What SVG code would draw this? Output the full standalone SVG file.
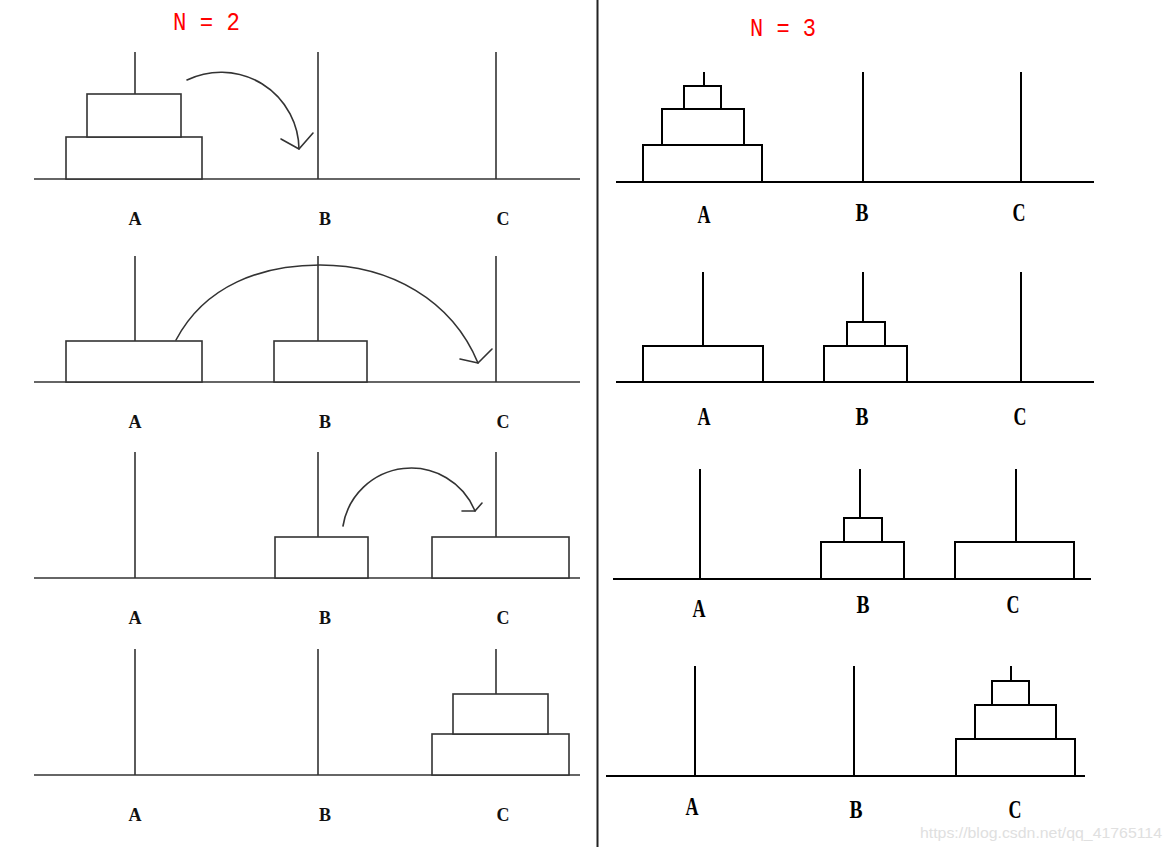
<svg xmlns="http://www.w3.org/2000/svg" width="1172" height="851" viewBox="0 0 1172 851">
<style>
.l{stroke:#333;stroke-width:1.6;fill:none}
.ld{stroke:#333;stroke-width:1.6;fill:#fff}
.r{stroke:#000;stroke-width:2;fill:none}
.rd{stroke:#000;stroke-width:2;fill:#fff}
.arc{stroke:#333;stroke-width:1.6;fill:none;stroke-linecap:round;stroke-linejoin:round}
.tl{font-family:"Liberation Serif",serif;font-weight:bold;font-size:18px;fill:#111;text-anchor:middle}
.tr{font-family:"Liberation Serif",serif;font-weight:bold;font-size:26px;fill:#000;text-anchor:middle}
.title{font-family:"Liberation Mono",monospace;font-size:25px;fill:#f00}
.wm{font-family:"Liberation Sans",sans-serif;font-size:15px;fill:#e0e0e0}
</style>
<rect width="1172" height="851" fill="#fff"/>
<line x1="597.5" y1="0" x2="597.5" y2="847" stroke="#222" stroke-width="2"/>
<text class="title" x="173" y="30" textLength="67" lengthAdjust="spacingAndGlyphs">N = 2</text>
<text class="title" x="750" y="36" textLength="66" lengthAdjust="spacingAndGlyphs">N = 3</text>

<g id="left-step1">
<line class="l" x1="34" y1="179" x2="580" y2="179"/>
<line class="l" x1="135" y1="52" x2="135" y2="94"/>
<line class="l" x1="318" y1="52" x2="318" y2="179"/>
<line class="l" x1="496" y1="52" x2="496" y2="179"/>
<rect class="ld" x="66" y="137" width="136" height="42"/>
<rect class="ld" x="87" y="94" width="94" height="43"/>
<text class="tl" x="135" y="225">A</text><text class="tl" x="325" y="225">B</text><text class="tl" x="503" y="225">C</text>
</g>
<g id="left-step2">
<line class="l" x1="34" y1="382" x2="580" y2="382"/>
<line class="l" x1="135" y1="256" x2="135" y2="341"/>
<line class="l" x1="318" y1="256" x2="318" y2="341"/>
<line class="l" x1="496" y1="256" x2="496" y2="382"/>
<rect class="ld" x="66" y="341" width="136" height="41"/>
<rect class="ld" x="274" y="341" width="93" height="41"/>
<text class="tl" x="135" y="428">A</text><text class="tl" x="325" y="428">B</text><text class="tl" x="503" y="428">C</text>
</g>
<g id="left-step3">
<line class="l" x1="34" y1="578" x2="580" y2="578"/>
<line class="l" x1="135" y1="452" x2="135" y2="578"/>
<line class="l" x1="318" y1="452" x2="318" y2="537"/>
<line class="l" x1="496" y1="452" x2="496" y2="537"/>
<rect class="ld" x="275" y="537" width="93" height="41"/>
<rect class="ld" x="432" y="537" width="137" height="41"/>
<text class="tl" x="135" y="624">A</text><text class="tl" x="325" y="624">B</text><text class="tl" x="503" y="624">C</text>
</g>
<g id="left-step4">
<line class="l" x1="34" y1="775" x2="580" y2="775"/>
<line class="l" x1="135" y1="649" x2="135" y2="775"/>
<line class="l" x1="318" y1="649" x2="318" y2="775"/>
<line class="l" x1="496" y1="649" x2="496" y2="694"/>
<rect class="ld" x="432" y="734" width="137" height="41"/>
<rect class="ld" x="453" y="694" width="95" height="40"/>
<text class="tl" x="135" y="821">A</text><text class="tl" x="325" y="821">B</text><text class="tl" x="503" y="821">C</text>
</g>

<g id="connectors">
<path class="arc" d="M187,80 A78,78 0 0 1 299,149"/>
<path class="arc" d="M281,139 L299,149 L313,133"/>
<path class="arc" d="M176,340 C205,285 262,265 320,265 C390,265 452,300 478,363"/>
<path class="arc" d="M460,359 L478,363 L492,349"/>
<path class="arc" d="M343,526 A69,69 0 0 1 475,511"/>
<path class="arc" d="M462,511 L475,511 L482,503"/>
</g>

<g id="right-step1">
<line class="r" x1="616" y1="182" x2="1094" y2="182"/>
<line class="r" x1="704" y1="72" x2="704" y2="86"/>
<line class="r" x1="863" y1="72" x2="863" y2="182"/>
<line class="r" x1="1021" y1="72" x2="1021" y2="182"/>
<rect class="rd" x="643" y="145" width="119" height="37"/>
<rect class="rd" x="662" y="109" width="82" height="36"/>
<rect class="rd" x="684" y="86" width="37" height="23"/>
<text class="tr" x="704" y="223" textLength="13" lengthAdjust="spacingAndGlyphs">A</text>
<text class="tr" x="862" y="221" textLength="13" lengthAdjust="spacingAndGlyphs">B</text>
<text class="tr" x="1019" y="221" textLength="13" lengthAdjust="spacingAndGlyphs">C</text>
</g>
<g id="right-step2">
<line class="r" x1="616" y1="382" x2="1094" y2="382"/>
<line class="r" x1="703" y1="272" x2="703" y2="346"/>
<line class="r" x1="863" y1="272" x2="863" y2="322"/>
<line class="r" x1="1021" y1="272" x2="1021" y2="382"/>
<rect class="rd" x="643" y="346" width="120" height="36"/>
<rect class="rd" x="824" y="346" width="83" height="36"/>
<rect class="rd" x="847" y="322" width="38" height="24"/>
<text class="tr" x="704" y="425" textLength="13" lengthAdjust="spacingAndGlyphs">A</text>
<text class="tr" x="862" y="425" textLength="13" lengthAdjust="spacingAndGlyphs">B</text>
<text class="tr" x="1020" y="425" textLength="13" lengthAdjust="spacingAndGlyphs">C</text>
</g>
<g id="right-step3">
<line class="r" x1="613" y1="579" x2="1091" y2="579"/>
<line class="r" x1="700" y1="469" x2="700" y2="579"/>
<line class="r" x1="860" y1="469" x2="860" y2="518"/>
<line class="r" x1="1016" y1="469" x2="1016" y2="542"/>
<rect class="rd" x="821" y="542" width="83" height="37"/>
<rect class="rd" x="844" y="518" width="38" height="24"/>
<rect class="rd" x="955" y="542" width="119" height="37"/>
<text class="tr" x="699" y="617" textLength="13" lengthAdjust="spacingAndGlyphs">A</text>
<text class="tr" x="863" y="613" textLength="13" lengthAdjust="spacingAndGlyphs">B</text>
<text class="tr" x="1013" y="613" textLength="13" lengthAdjust="spacingAndGlyphs">C</text>
</g>
<g id="right-step4">
<line class="r" x1="606" y1="776" x2="1085" y2="776"/>
<line class="r" x1="695" y1="666" x2="695" y2="776"/>
<line class="r" x1="854" y1="666" x2="854" y2="776"/>
<line class="r" x1="1011" y1="666" x2="1011" y2="681"/>
<rect class="rd" x="956" y="739" width="119" height="37"/>
<rect class="rd" x="975" y="705" width="81" height="34"/>
<rect class="rd" x="992" y="681" width="37" height="24"/>
<text class="tr" x="692" y="815" textLength="13" lengthAdjust="spacingAndGlyphs">A</text>
<text class="tr" x="856" y="818" textLength="13" lengthAdjust="spacingAndGlyphs">B</text>
<text class="tr" x="1015" y="818" textLength="13" lengthAdjust="spacingAndGlyphs">C</text>
</g>
<text class="wm" x="920" y="838" textLength="242" lengthAdjust="spacingAndGlyphs">https://blog.csdn.net/qq_41765114</text>
</svg>
